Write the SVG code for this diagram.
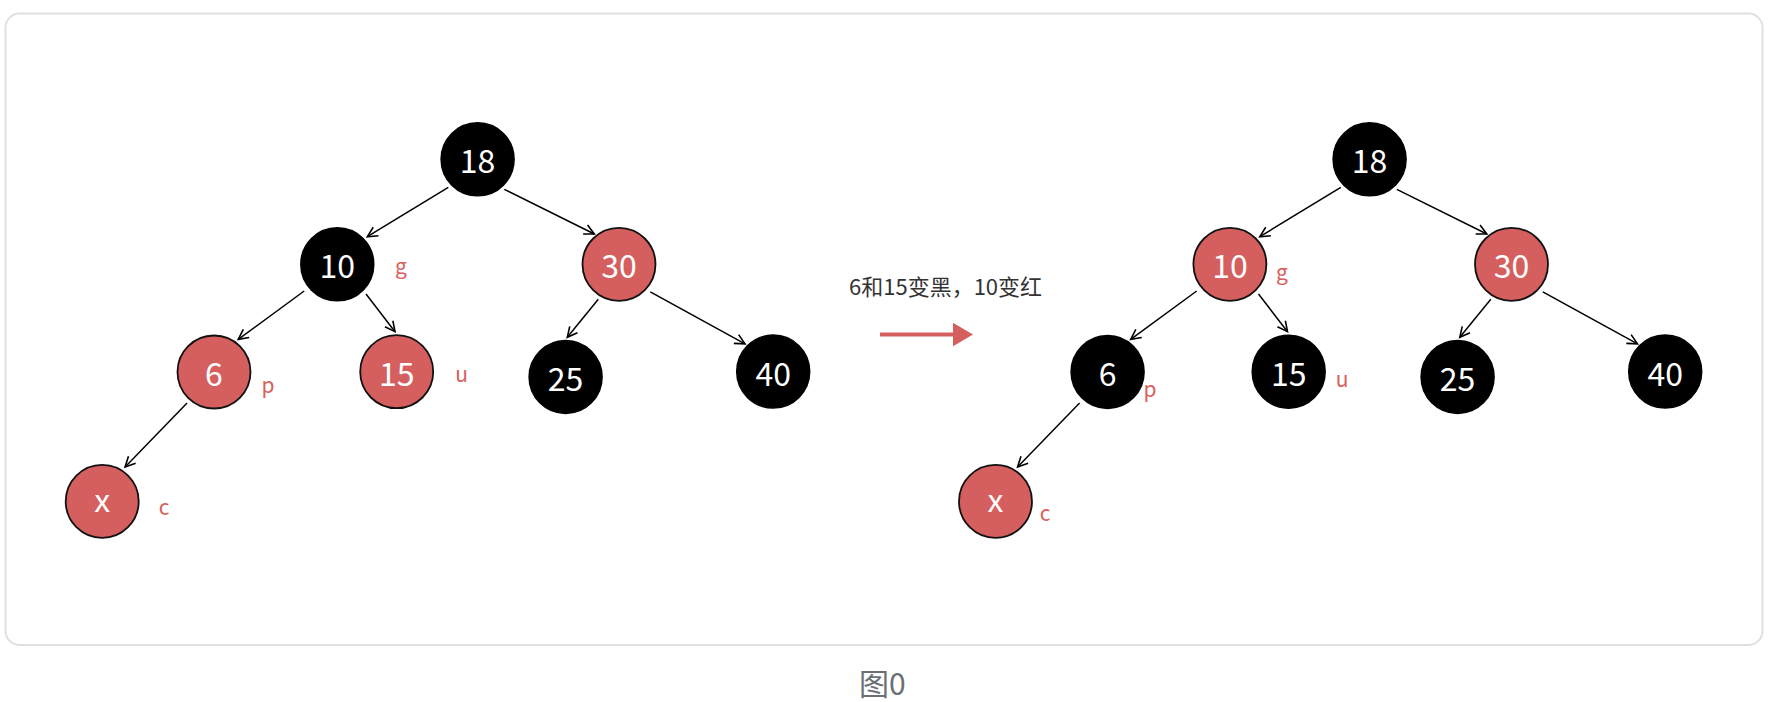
<svg xmlns="http://www.w3.org/2000/svg" width="1772" height="702" viewBox="0 0 1772 702">
<style>
.panel{fill:#ffffff;stroke:#e0e0e2;stroke-width:2}
.red{fill:#d45f5e;stroke:#111;stroke-width:1.8}
.blk{fill:#000;stroke:#000;stroke-width:1.5}
.num{font-family:"Noto Sans CJK SC","Noto Sans",sans-serif;font-size:32px;fill:#fff;text-anchor:middle}
.lbl{font-family:"Noto Sans CJK SC","Noto Sans",sans-serif;font-size:21px;fill:#d8605d;text-anchor:middle}
.edge{stroke:#000;stroke-width:1.5;fill:none;marker-end:url(#arr)}
.note{font-family:"Noto Sans CJK SC","Noto Sans",sans-serif;font-size:22px;fill:#333}
.cap{font-family:"Noto Sans CJK SC","Noto Sans",sans-serif;font-size:30px;fill:#6b6f76}
</style>
<defs>
<marker id="arr" markerUnits="userSpaceOnUse" markerWidth="14" markerHeight="14" refX="11" refY="6" orient="auto">
<path d="M1,1 L11,6 L1,11" fill="none" stroke="#000" stroke-width="1.6"/>
</marker>
</defs>
<rect class="panel" x="5.5" y="13.5" width="1757" height="631.5" rx="14"/>

<g id="connectors">
<line class="edge" x1="448.3" y1="187.3" x2="367.3" y2="236.7"/>
<line class="edge" x1="504.3" y1="189.3" x2="594.3" y2="234"/>
<line class="edge" x1="304.2" y1="291" x2="238.2" y2="339.4"/>
<line class="edge" x1="366" y1="294" x2="395" y2="331.7"/>
<line class="edge" x1="598.3" y1="299.3" x2="567.3" y2="337.3"/>
<line class="edge" x1="650.3" y1="291.9" x2="745" y2="343.8"/>
<line class="edge" x1="187.1" y1="403" x2="125.1" y2="467"/>

<line class="edge" x1="1340.8" y1="187.3" x2="1259.8" y2="236.7"/>
<line class="edge" x1="1396.8" y1="189.3" x2="1486.8" y2="234"/>
<line class="edge" x1="1196.7" y1="291" x2="1130.7" y2="339.4"/>
<line class="edge" x1="1258.5" y1="294" x2="1287.5" y2="331.7"/>
<line class="edge" x1="1490.8" y1="299.3" x2="1459.8" y2="337.3"/>
<line class="edge" x1="1542.8" y1="291.9" x2="1637.5" y2="343.8"/>
<line class="edge" x1="1079.6" y1="403" x2="1017.6" y2="467"/>

<line x1="880" y1="334.5" x2="956" y2="334.5" stroke="#d45f5e" stroke-width="4"/>
<polygon points="953,322.7 973,334.5 953,346.3" fill="#d45f5e"/>
</g>

<text class="note" x="849" y="295">6和15变黑，10变红</text>

<!-- left tree -->
<g id="L18"><circle class="blk" cx="477.6" cy="159.3" r="36.5"/><text class="num" x="477.6" y="173.3">18</text></g>
<g id="L10"><circle class="blk" cx="337.3" cy="264.3" r="36.5"/><text class="num" x="337.3" y="278.3">10</text><text class="lbl" x="401" y="273.5">g</text></g>
<g id="L30"><circle class="red" cx="619" cy="264.3" r="36.5"/><text class="num" x="619" y="278.3">30</text></g>
<g id="L6"><circle class="red" cx="214" cy="372" r="36.5"/><text class="num" x="214" y="386">6</text><text class="lbl" x="268" y="393.3">p</text></g>
<g id="L15"><circle class="red" cx="396.7" cy="371.7" r="36.5"/><text class="num" x="396.7" y="385.7">15</text><text class="lbl" x="461.7" y="381.7">u</text></g>
<g id="L25"><circle class="blk" cx="565.6" cy="377" r="36.5"/><text class="num" x="565.6" y="391">25</text></g>
<g id="L40"><circle class="blk" cx="773.2" cy="371.6" r="36.5"/><text class="num" x="773.2" y="385.6">40</text></g>
<g id="Lx"><circle class="red" cx="102.2" cy="501.4" r="36.5"/><text class="num" x="102.2" y="512">x</text><text class="lbl" x="164" y="515">c</text></g>

<!-- right tree -->
<g id="R18"><circle class="blk" cx="1369.6" cy="159.3" r="36.5"/><text class="num" x="1369.6" y="173.3">18</text></g>
<g id="R10"><circle class="red" cx="1229.9" cy="264.3" r="36.5"/><text class="num" x="1229.9" y="278.3">10</text><text class="lbl" x="1282" y="280">g</text></g>
<g id="R30"><circle class="red" cx="1511.5" cy="264.3" r="36.5"/><text class="num" x="1511.5" y="278.3">30</text></g>
<g id="R6"><circle class="blk" cx="1107.6" cy="372" r="36.5"/><text class="num" x="1107.6" y="386">6</text><text class="lbl" x="1150" y="397">p</text></g>
<g id="R15"><circle class="blk" cx="1288.7" cy="371.7" r="36.5"/><text class="num" x="1288.7" y="385.7">15</text><text class="lbl" x="1342" y="387">u</text></g>
<g id="R25"><circle class="blk" cx="1457.6" cy="377" r="36.5"/><text class="num" x="1457.6" y="391">25</text></g>
<g id="R40"><circle class="blk" cx="1665.2" cy="371.6" r="36.5"/><text class="num" x="1665.2" y="385.6">40</text></g>
<g id="Rx"><circle class="red" cx="995.5" cy="501.4" r="36.5"/><text class="num" x="995.5" y="512">x</text><text class="lbl" x="1045" y="521">c</text></g>

<text class="cap" x="859" y="695">图0</text>
</svg>
